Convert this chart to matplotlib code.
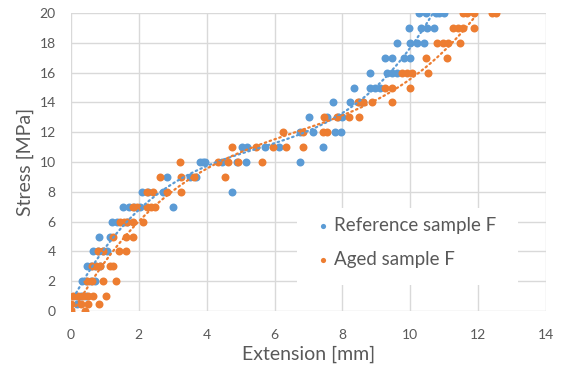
import numpy as np
import matplotlib
matplotlib.use("Agg")
import matplotlib.pyplot as plt
from matplotlib.patches import Rectangle

plt.rcParams['font.family'] = ['Lato', 'DejaVu Sans']

# Reference sample F: (extension mm, stress MPa)
ref_x = [0.18,
         0.15, 0.30, 0.45,
         0.32, 0.45, 0.58, 0.70,
         0.47, 0.60, 0.72, 0.85,
         0.65, 0.80, 0.95, 1.06,
         0.83, 1.15,
         1.20, 1.35, 1.64,
         1.53, 1.70, 1.85, 2.03, 3.00,
         2.10, 2.27, 2.72, 4.74,
         2.83, 3.50, 3.68,
         3.80, 3.90, 3.95, 4.45, 4.89, 5.16, 6.75,
         5.04, 5.20, 5.72, 6.13, 7.43,
         6.75, 7.13, 7.78, 7.96,
         7.00, 7.55, 7.87, 8.00,
         7.72, 8.22, 8.50, 8.60,
         8.34, 8.80, 8.96, 9.10,
         8.80, 9.30, 9.45, 9.60,
         9.25, 9.46, 9.80, 10.00,
         9.60, 10.00, 10.20, 10.40,
         9.96, 10.32, 10.50, 10.70,
         10.26, 10.46, 10.76, 10.85, 10.99]
ref_y = [0.5,
         1, 1, 1,
         2, 2, 2, 2,
         3, 3, 3, 3,
         4, 4, 4, 4,
         5, 5,
         6, 6, 6,
         7, 7, 7, 7, 7,
         8, 8, 8, 8,
         9, 9, 9,
         10, 10, 10, 10, 10, 10, 10,
         11, 11, 11, 11, 11,
         12, 12, 12, 12,
         13, 13, 13, 13,
         14, 14, 14, 14,
         15, 15, 15, 15,
         16, 16, 16, 16,
         17, 17, 17, 17,
         18, 18, 18, 18,
         19, 19, 19, 19,
         20, 20, 20, 20, 20]

# Aged sample F
aged_x = [0.00, 0.41,
          0.00, 0.30, 0.50, 0.82,
          0.05, 0.20, 0.35, 0.50, 0.65, 1.03,
          0.47, 0.62, 0.94, 1.33,
          0.62, 0.75, 0.85, 1.15, 1.24,
          0.80, 0.94, 1.41, 1.62,
          1.24, 1.62, 1.82,
          1.44, 1.55, 1.65, 1.82, 2.12,
          1.83, 1.95, 2.24, 2.35, 2.47,
          2.24, 2.42, 2.83, 3.24,
          2.62, 3.24, 3.62, 4.54,
          3.21, 4.33, 4.63, 4.92, 5.63,
          4.74, 5.45, 5.95, 6.34, 6.84,
          6.24, 6.84, 7.43, 7.55,
          7.46, 7.84, 8.20, 8.50,
          8.46, 8.60, 8.87, 9.46,
          9.25, 9.46, 10.00,
          9.75, 9.90, 10.05, 10.53,
          10.46, 11.08,
          10.80, 10.95, 11.10, 11.47,
          11.26, 11.40, 11.56, 11.88,
          11.55, 11.67, 11.88, 12.41, 12.53]
aged_y = [0, 0,
          0.5, 0.5, 0.5, 0.5,
          1, 1, 1, 1, 1, 1,
          2, 2, 2, 2,
          3, 3, 3, 3, 3,
          4, 4, 4, 4,
          5, 5, 5,
          6, 6, 6, 6, 6,
          7, 7, 7, 7, 7,
          8, 8, 8, 8,
          9, 9, 9, 9,
          10, 10, 10, 10, 10,
          11, 11, 11, 11, 11,
          12, 12, 12, 12,
          13, 13, 13, 13,
          14, 14, 14, 14,
          15, 15, 15,
          16, 16, 16, 16,
          17, 17,
          18, 18, 18, 18,
          19, 19, 19, 19,
          20, 20, 20, 20, 20]

labels = ["Reference sample F", "Aged sample F"]
x_ticks = [0, 2, 4, 6, 8, 10, 12, 14]
y_ticks = [0, 2, 4, 6, 8, 10, 12, 14, 16, 18, 20]

blue = "#5B9BD5"
orange = "#ED7D31"
gray = "#595959"

fig = plt.figure(figsize=(5.63, 3.65), dpi=100)
ax = fig.add_axes([71/563, 54/365, 475/563, 298/365])

for xs, ys, c, lab in [(ref_x, ref_y, blue, labels[0]), (aged_x, aged_y, orange, labels[1])]:
    xs = np.array(xs); ys = np.array(ys)
    ax.scatter(xs, ys, s=33, color=c, label=lab, zorder=3, linewidths=0)
    coef = np.polyfit(xs, ys, 3)
    xx = np.linspace(xs.min(), xs.max(), 300)
    ax.plot(xx, np.polyval(coef, xx), color=c, lw=1.6,
            linestyle=(0, (0.7, 1.6)), zorder=4,
            dash_capstyle='round')

ax.set_xlim(0, 14)
ax.set_ylim(0, 20)
ax.set_xticks(x_ticks)
ax.set_yticks(y_ticks)
ax.grid(True, color="#D9D9D9", lw=1)
ax.set_axisbelow(True)
for s in ax.spines.values():
    s.set_visible(False)
ax.tick_params(length=0, labelsize=10, colors=gray)
ax.tick_params(axis='y', pad=11)
ax.tick_params(axis='x', pad=13)
ax.set_xlabel("Extension [mm]", fontsize=14, color=gray, labelpad=3)
ax.set_ylabel("Stress [MPa]", fontsize=14, color=gray, labelpad=4)

# white legend background box
ax.add_patch(Rectangle((0.4758, 0.0872), 0.4653, 0.2584, transform=ax.transAxes,
                       facecolor="white", edgecolor="none", zorder=5))

leg = ax.legend(loc="upper left", bbox_to_anchor=(0.5147, 0.3154), frameon=False,
                fontsize=13.5, handletextpad=0.2, labelspacing=0.9,
                borderpad=0, borderaxespad=0, markerscale=0.65, handlelength=0.8)
leg.set_zorder(6)
for t in leg.get_texts():
    t.set_color(gray)

fig.savefig("out.png", dpi=100)
